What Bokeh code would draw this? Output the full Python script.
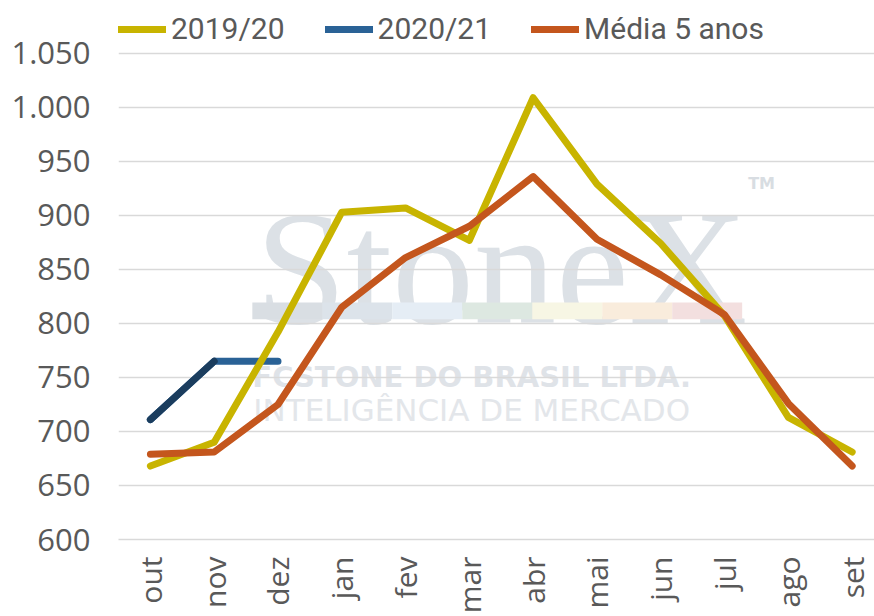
import numpy as np
from bokeh.plotting import figure
from bokeh.models import Range1d, FixedTicker, Legend, LegendItem, Label, BoxAnnotation
from bokeh.core.properties import value
from bokeh.embed import file_html
from bokeh.resources import INLINE

# ---- data ----
months = ["out", "nov", "dez", "jan", "fev", "mar", "abr", "mai", "jun", "jul", "ago", "set"]
s2019_20 = [668, 690, 792, 903, 907, 877, 1009, 929, 874, 807, 713, 681]
s2020_21 = [711, 765, 765]
media5 = [679, 681, 725, 815, 861, 890, 936, 878, 845, 808, 726, 668]
y_ticks = [600, 650, 700, 750, 800, 850, 900, 950, 1000, 1050]
y_tick_labels = ["600", "650", "700", "750", "800", "850", "900", "950", "1.000", "1.050"]
series_names = ["2019/20", "2020/21", "Média 5 anos"]

# ---- styles ----
C_YEL = "#c8b400"
C_BLU = "#2a6296"
C_NAVY = "#1b3d5e"
C_ORG = "#c4561d"
TXT = "#595959"
GRID = "#d9d9d9"
bar_colors = ["#d9dee3", "#dce3ea", "#e5edf5", "#dde8e1", "#f7f6e4", "#f9ecdc", "#f3dfdf"]

x = list(range(len(months)))

# frame reaches the top of the canvas; the space above 1.050 holds the legend
p = figure(width=874, height=616, output_backend="svg", toolbar_location=None,
           x_range=Range1d(-0.5, 11.35), y_range=Range1d(600, 1099),
           min_border_left=118, min_border_right=0, min_border_top=0, min_border_bottom=0)
p.outline_line_color = None
p.background_fill_color = "white"
p.border_fill_color = "white"

# watermark (behind everything)
p.add_layout(Label(x=1.645, y=851.5, text="StoneX", text_font="Liberation Serif",
                   text_font_size="164px", text_color="#dce1e6", text_baseline="alphabetic",
                   level="image"))
p.add_layout(Label(x=9.37, y=929.3, text="TM", text_font="DejaVu Sans", text_font_style="bold",
                   text_font_size="16px", text_color="#d8dde2", text_baseline="alphabetic",
                   level="image"))
seg_w = 1.0968
for i, c in enumerate(bar_colors):
    p.add_layout(BoxAnnotation(left=1.598 + i * seg_w, right=1.598 + (i + 1) * seg_w,
                               bottom=804, top=819.5, fill_color=c, fill_alpha=1.0,
                               line_color=None, level="image"))
p.add_layout(Label(x=1.598, y=750.9, text="FCSTONE DO BRASIL LTDA.", text_font="DejaVu Sans",
                   text_font_style="bold", text_font_size="29px", text_color="#dfe3e8",
                   text_baseline="alphabetic", level="image"))
p.add_layout(Label(x=1.614, y=719.8, text="INTELIGÊNCIA DE MERCADO", text_font="DejaVu Sans",
                   text_font_size="31px", text_color="#e3e6ea",
                   text_baseline="alphabetic", level="image"))

# series
kw = dict(line_width=7, line_cap="round", line_join="round")
r2 = p.line(x[:len(s2020_21)], s2020_21, line_color=C_BLU, **kw)
p.line(x[:2], s2020_21[:2], line_color=C_NAVY, **kw)
r1 = p.line(x, s2019_20, line_color=C_YEL, **kw)
r3 = p.line(x, media5, line_color=C_ORG, **kw)

# axes
p.xgrid.visible = False
p.ygrid.grid_line_color = GRID
p.ygrid.grid_line_width = 1.5

p.yaxis.ticker = FixedTicker(ticks=y_ticks)
p.yaxis.major_label_overrides = {v: l for v, l in zip(y_ticks, y_tick_labels)}
p.yaxis.axis_line_color = None
p.yaxis.major_tick_line_color = None
p.yaxis.minor_tick_line_color = None
p.yaxis.major_tick_out = 0
p.yaxis.major_tick_in = 0
p.yaxis.minor_tick_out = 0
p.yaxis.major_label_standoff = 28
p.yaxis.major_label_text_font = "Open Sans"
p.yaxis.major_label_text_font_size = "31px"
p.yaxis.major_label_text_color = TXT

p.xaxis.ticker = FixedTicker(ticks=x)
p.xaxis.major_label_overrides = {i: m for i, m in zip(x, months)}
p.xaxis.major_label_orientation = np.pi / 2
p.xaxis.axis_line_color = GRID
p.xaxis.axis_line_width = 1.5
p.xaxis.major_tick_line_color = None
p.xaxis.minor_tick_line_color = None
p.xaxis.major_tick_out = 0
p.xaxis.major_tick_in = 0
p.xaxis.minor_tick_out = 0
p.xaxis.major_label_standoff = 17
p.xaxis.major_label_text_font = "Open Sans"
p.xaxis.major_label_text_font_size = "30px"
p.xaxis.major_label_text_color = TXT

legend = Legend(items=[LegendItem(label=series_names[0], renderers=[r1]),
                       LegendItem(label=series_names[1], renderers=[r2]),
                       LegendItem(label=series_names[2], renderers=[r3])],
                orientation="horizontal", location=(0, 493),
                glyph_width=48, glyph_height=20, label_standoff=5, spacing=40,
                padding=0, margin=0, border_line_color=None, background_fill_alpha=0,
                label_text_font="Roboto", label_text_font_size="30px",
                label_text_color=TXT)
p.add_layout(legend, "center")

open("out.html", "w").write(file_html(p, INLINE))
